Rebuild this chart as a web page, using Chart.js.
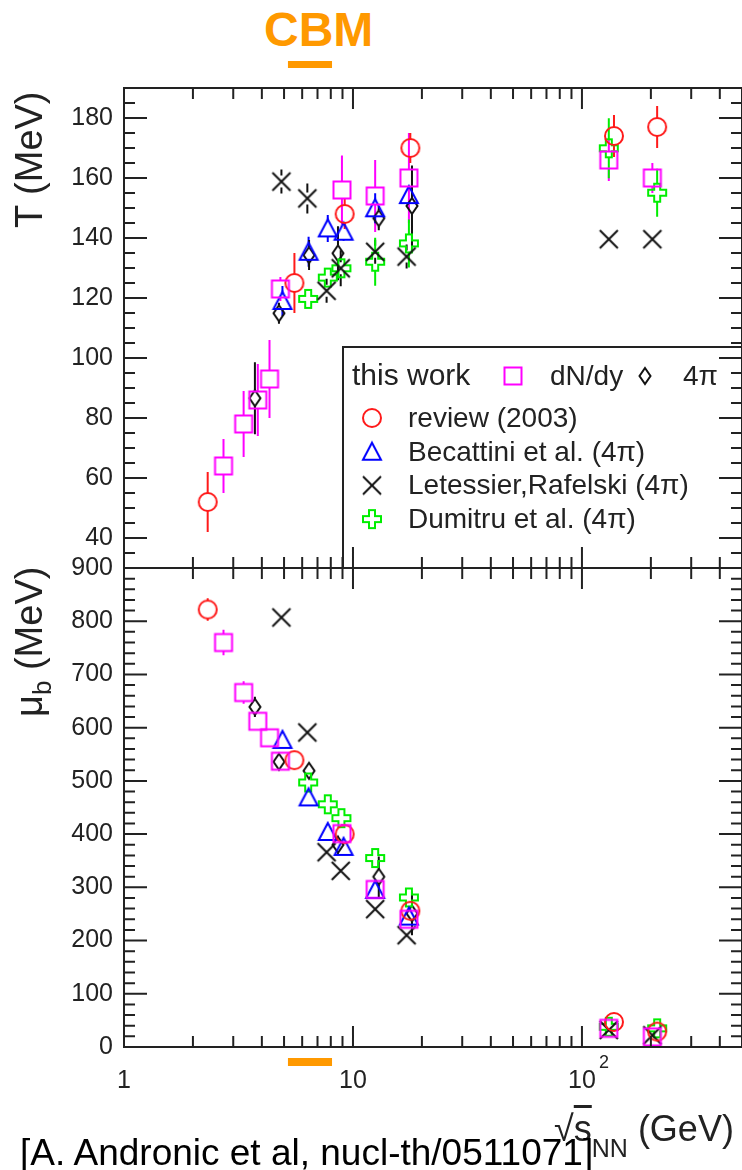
<!DOCTYPE html>
<html>
<head>
<meta charset="utf-8">
<script src="https://cdn.jsdelivr.net/npm/chart.js@4.4.1/dist/chart.umd.min.js"></script>
<style>
  body { margin: 0; background: #fff; }
  #wrap { position: relative; width: 742px; height: 1170px; overflow: hidden; font-family: "Liberation Sans", Arial, sans-serif; color: #222; }
  #wrap canvas { position: absolute; left: 0; top: 0; }
  .lbl { position: absolute; white-space: nowrap; line-height: 1; }
  .rot { transform-origin: 0 0; transform: rotate(-90deg); }
  .low { position: relative; vertical-align: baseline; }
</style>
</head>
<body>
<div id="wrap">
  <div class="lbl" style="left:264px;top:6px;font-size:48px;font-weight:bold;color:#ff9900;">CBM</div>
  <canvas id="chartT" width="742" height="1170"></canvas>
  <canvas id="chartMu" width="742" height="1170"></canvas>
  <div class="lbl rot" style="left:10px;top:228px;font-size:38px;">T (MeV)</div>
  <div class="lbl rot" style="left:10px;top:717px;font-size:38px;">&mu;<span class="low" style="font-size:26px;top:9px;">b</span> (MeV)</div>
  <div class="lbl" style="left:554px;top:1111px;font-size:36px;">&radic;<span style="text-decoration:overline">s</span><span class="low" style="font-size:25px;top:16px;">NN</span> (GeV)</div>
  <div class="lbl" style="left:20px;top:1134px;font-size:37px;color:#000;">[A. Andronic et al, nucl-th/0511071]</div>
</div>
<script>
// sqrt(s_NN) in GeV, T and mu_b in MeV
const thisWorkX = [2.72, 3.33, 3.84, 4.32, 4.82, 8.95, 12.5, 17.55, 131, 203];
const thisWorkT = [64, 78, 86, 93, 123, 156, 154, 160, 166, 160];
const thisWorkTErr = [9, 11, 12, 13, 4, 11.5, 12, 15, 7, 5];
const thisWorkMu = [760, 666, 612, 581, 537, 401, 296, 240, 35, 19];
const thisWorkMuErr = [24, 21, 10, 10, 10, 18, 12, 12, 8, 8];

const reviewX = [2.32, 5.55, 9.2, 17.8, 138, 213];
const reviewT = [52, 125, 148, 170, 174, 177];
const reviewTErr = [10, 10, 5, 5, 7, 7];
const reviewMu = [822, 539, 400, 256, 47, 29];
const reviewMuErr = [21, 10, 10, 10, 5, 5];

const becattiniX = [4.92, 6.4, 7.76, 9.1, 12.5, 17.55];
const becattiniT = [119, 135.4, 143.2, 142.1, 149.9, 154.3];
const becattiniTErr = [5, 5, 4.5, 3, 5, 3];
const becattiniMu = [577, 469, 404, 376, 295, 245];
const becattiniMuErr = [15, 15, 10, 10, 10, 10];

const letessierX = [4.87, 6.32, 7.67, 8.84, 12.5, 17.15, 131, 203];
const letessierT = [158.8, 153.2, 122.4, 129.9, 135.4, 133.8, 139.6, 139.6];
const letessierTErr = [4, 5, 4, 6, 4, 4, 0, 0];
const letessierMu = [807, 591, 366, 331, 259, 210, 32, 22];
const letessierMuErr = [0, 0, 0, 0, 0, 0, 0, 0];

const dumitruX = [6.37, 7.76, 8.9, 12.5, 17.55, 131, 213];
const dumitruT = [119.7, 126.8, 129.9, 132.1, 138.2, 169.9, 155.1];
const dumitruTErr = [2, 3, 3, 8, 8, 10, 8];
const dumitruMu = [497, 456, 430, 355, 281, 38, 35];
const dumitruMuErr = [15, 5, 5, 5, 5, 5, 5];

const fullX = [3.73, 4.75, 6.43, 8.6, 12.96, 18.1];
const fullT = [86.6, 114.9, 134.3, 134.9, 146.6, 150.7];
const fullTErr = [12, 3.5, 5, 9, 4, 13.5];
const fullMu = [639, 536, 519, 380, 320, 251];
const fullMuErr = [19, 10, 12, 17, 38, 41];

const cbmRange = [5.2, 8.1];

const xTickValues = [1, 10, 100];
const xTickLabels = ['1', '10', '10'];
const xTickSup = ['', '', '2'];
const tTicks = [40, 60, 80, 100, 120, 140, 160, 180];
const muTicks = [0, 100, 200, 300, 400, 500, 600, 700, 800, 900];

const legendRows = ['review (2003)', 'Becattini et al. (4\u03C0)', 'Letessier,Rafelski (4\u03C0)', 'Dumitru et al. (4\u03C0)'];

const FONT = '"Liberation Sans", Arial, sans-serif';
const INK = '#222';

function makeMarker(color, draw) {
  const c = document.createElement('canvas');
  c.width = 24; c.height = 24;
  const g = c.getContext('2d');
  g.translate(12, 12);
  g.strokeStyle = color;
  g.lineWidth = 2;
  g.beginPath();
  draw(g);
  g.stroke();
  return c;
}

const mSquare = makeMarker('#ff00ff', g => g.rect(-8.5, -8.5, 17, 17));
const mCircle = makeMarker('#ff1a1a', g => g.arc(0, 0, 9, 0, Math.PI * 2));
const mTriangle = makeMarker('#0000ff', g => { g.moveTo(0, -9); g.lineTo(9, 8); g.lineTo(-9, 8); g.closePath(); });
const mX = makeMarker('#111', g => { g.moveTo(-9, -9); g.lineTo(9, 9); g.moveTo(9, -9); g.lineTo(-9, 9); });
const mDiamond = makeMarker('#111', g => { g.moveTo(0, -8); g.lineTo(5.5, 0); g.lineTo(0, 8); g.lineTo(-5.5, 0); g.closePath(); });
const mCross = makeMarker('#00ee00', g => {
  const p = [[-3,-9],[3,-9],[3,-3],[9,-3],[9,3],[3,3],[3,9],[-3,9],[-3,3],[-9,3],[-9,-3],[-3,-3]];
  g.moveTo(p[0][0], p[0][1]);
  p.slice(1).forEach(q => g.lineTo(q[0], q[1]));
  g.closePath();
});

const series = [
  { label: 'this work dN/dy', x: thisWorkX, T: thisWorkT, TErr: thisWorkTErr, Mu: thisWorkMu, MuErr: thisWorkMuErr, marker: mSquare, color: '#ff00ff', gap: 8.5 },
  { label: 'review (2003)', x: reviewX, T: reviewT, TErr: reviewTErr, Mu: reviewMu, MuErr: reviewMuErr, marker: mCircle, color: '#ff1a1a', gap: 9 },
  { label: 'Becattini et al.', x: becattiniX, T: becattiniT, TErr: becattiniTErr, Mu: becattiniMu, MuErr: becattiniMuErr, marker: mTriangle, color: '#0000ff', gap: 8 },
  { label: 'Letessier,Rafelski', x: letessierX, T: letessierT, TErr: letessierTErr, Mu: letessierMu, MuErr: letessierMuErr, marker: mX, color: '#111', gap: 6 },
  { label: 'Dumitru et al.', x: dumitruX, T: dumitruT, TErr: dumitruTErr, Mu: dumitruMu, MuErr: dumitruMuErr, marker: mCross, color: '#00ee00', gap: 9 },
  { label: 'this work 4pi', x: fullX, T: fullT, TErr: fullTErr, Mu: fullMu, MuErr: fullMuErr, marker: mDiamond, color: '#111', gap: 8 }
];

function buildDatasets(key) {
  return series.map(s => ({
    label: s.label,
    data: s.x.map((v, i) => ({ x: v, y: s[key][i] })),
    err: s[key + 'Err'],
    gap: s.gap,
    borderColor: s.color,
    backgroundColor: 'rgba(0,0,0,0)',
    pointStyle: s.marker,
    pointRadius: 9,
    showLine: false
  }));
}

// vertical error bars, drawn with the chart's own y scale
const errorBars = {
  id: 'errorBars',
  beforeDatasetsDraw(chart) {
    const ctx = chart.ctx;
    const ys = chart.scales.y;
    chart.data.datasets.forEach((ds, i) => {
      const meta = chart.getDatasetMeta(i);
      ctx.save();
      ctx.strokeStyle = ds.borderColor;
      ctx.lineWidth = 2;
      ctx.beginPath();
      meta.data.forEach((pt, j) => {
        const e = ds.err[j];
        if (!e) return;
        const v = ds.data[j].y;
        const top = ys.getPixelForValue(v + e);
        const bot = ys.getPixelForValue(v - e);
        if (pt.y - ds.gap > top) { ctx.moveTo(pt.x, top); ctx.lineTo(pt.x, pt.y - ds.gap); }
        if (bot > pt.y + ds.gap) { ctx.moveTo(pt.x, pt.y + ds.gap); ctx.lineTo(pt.x, bot); }
      });
      ctx.stroke();
      ctx.restore();
    });
  }
};

// ROOT style frame with inward ticks on all four sides
const frame = {
  id: 'frame',
  afterDatasetsDraw(chart, args, opts) {
    const { ctx, chartArea: a } = chart;
    const x = chart.scales.x, y = chart.scales.y;
    ctx.save();
    ctx.strokeStyle = INK;
    ctx.lineWidth = 2;
    ctx.strokeRect(a.left, a.top, a.right - a.left, a.bottom - a.top);
    ctx.beginPath();
    for (let d = 1; d <= 100; d *= 10) {
      for (let k = 1; k <= 9; k++) {
        const v = d * k;
        if (v > x.max) break;
        const px = x.getPixelForValue(v);
        const len = k === 1 ? 21 : 11;
        ctx.moveTo(px, a.top); ctx.lineTo(px, a.top + len);
        ctx.moveTo(px, a.bottom); ctx.lineTo(px, a.bottom - len);
      }
    }
    for (let v = y.min; v <= y.max + 1e-6; v += opts.minor) {
      const py = y.getPixelForValue(v);
      const len = v % opts.major === 0 ? 23 : 11;
      ctx.moveTo(a.left, py); ctx.lineTo(a.left + len, py);
      ctx.moveTo(a.right, py); ctx.lineTo(a.right - len, py);
    }
    ctx.stroke();
    if (opts.barY) {
      ctx.fillStyle = '#ff9900';
      const x0 = x.getPixelForValue(cbmRange[0]);
      const x1 = x.getPixelForValue(cbmRange[1]);
      ctx.fillRect(x0, opts.barY, x1 - x0, opts.barH);
    }
    if (opts.sup) {
      // exponent of the decade labels
      ctx.fillStyle = INK;
      ctx.font = '18px ' + FONT;
      ctx.textBaseline = 'alphabetic';
      xTickValues.forEach((v, i) => {
        if (xTickSup[i]) ctx.fillText(xTickSup[i], x.getPixelForValue(v) + 17, opts.sup);
      });
    }
    ctx.restore();
  }
};

const legendBox = {
  id: 'legendBox',
  afterDraw(chart, args, opts) {
    if (!opts.show) return;
    const ctx = chart.ctx;
    ctx.save();
    ctx.strokeStyle = INK;
    ctx.lineWidth = 2;
    ctx.beginPath();
    ctx.moveTo(343, 568); ctx.lineTo(343, 347); ctx.lineTo(742, 347);
    ctx.stroke();
    ctx.fillStyle = INK;
    ctx.textBaseline = 'alphabetic';
    ctx.font = '30px ' + FONT;
    ctx.fillText('this work', 352, 385);
    ctx.drawImage(mSquare, 513 - 12, 376 - 12);
    ctx.font = '28px ' + FONT;
    ctx.fillText('dN/dy', 550, 385);
    ctx.drawImage(mDiamond, 645 - 12, 376 - 12);
    ctx.fillText('4\u03C0', 683, 385);
    const marks = [mCircle, mTriangle, mX, mCross];
    legendRows.forEach((t, i) => {
      const cy = 418 + i * 33.7;
      ctx.drawImage(marks[i], 372 - 12, cy - 12);
      ctx.fillText(t, 408, cy + 9);
    });
    ctx.restore();
  }
};

function panel(id, key, yMin, yMax, yTicks, padTop, padBottom, showX, frameOpts, showLegend) {
  return new Chart(document.getElementById(id), {
    type: 'scatter',
    data: { datasets: buildDatasets(key) },
    options: {
      responsive: false,
      animation: false,
      devicePixelRatio: 1,
      events: [],
      layout: { autoPadding: false, padding: { left: 0, right: 0, top: padTop, bottom: padBottom } },
      plugins: {
        legend: { display: false },
        tooltip: { enabled: false },
        frame: frameOpts,
        legendBox: { show: showLegend }
      },
      scales: {
        x: {
          type: 'logarithmic',
          min: 1,
          max: 500,
          display: showX,
          grid: { display: false, drawTicks: false },
          border: { display: false },
          afterBuildTicks: s => { s.ticks = xTickValues.map(v => ({ value: v })); },
          afterFit: s => { s.height = showX ? 80 : 0; },
          ticks: {
            autoSkip: false, maxRotation: 0, padding: 19, color: INK,
            font: { family: FONT, size: 25 },
            callback: (v, i) => xTickLabels[i]
          }
        },
        y: {
          min: yMin,
          max: yMax,
          grid: { display: false, drawTicks: false },
          border: { display: false },
          afterBuildTicks: s => { s.ticks = yTicks.map(v => ({ value: v })); },
          afterFit: s => { s.width = 124; },
          ticks: {
            padding: 11, color: INK,
            font: { family: FONT, size: 25 },
            callback: v => String(v)
          }
        }
      }
    },
    plugins: [errorBars, frame, legendBox]
  });
}

panel('chartT', 'T', 30, 190, tTicks, 88, 1170 - 568, false, { minor: 5, major: 20, barY: 61, barH: 7 }, true);
panel('chartMu', 'Mu', 0, 900, muTicks, 568, 1170 - 1047 - 80, true, { minor: 20, major: 100, barY: 1058, barH: 8, sup: 1068 }, false);
</script>
</body>
</html>
